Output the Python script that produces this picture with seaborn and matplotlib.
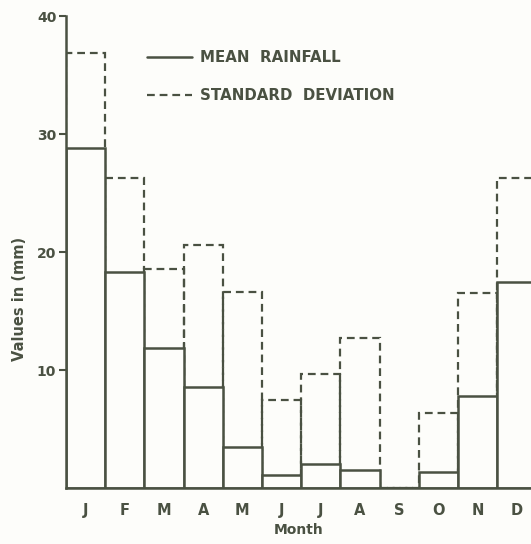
import matplotlib
matplotlib.use("Agg")
import matplotlib.pyplot as plt
import seaborn as sns
import pandas as pd
from matplotlib.lines import Line2D

months = ["J", "F", "M", "A", "M", "J", "J", "A", "S", "O", "N", "D"]
mean_rainfall = [28.8, 18.3, 11.9, 8.6, 3.5, 1.1, 2.0, 1.5, 0.0, 1.35, 7.8, 17.5]
std_deviation = [36.9, 26.3, 18.6, 20.6, 16.6, 7.5, 9.7, 12.7, 0.0, 6.35, 16.5, 26.3]
yticks = [10, 20, 30, 40]

ink = "#4a5142"
bg = "#fdfdfa"

sns.set_theme(style="white")
plt.rcParams["font.family"] = ["DejaVu Sans"]

df = pd.DataFrame({"pos": list(range(len(months))), "mean": mean_rainfall, "sd": std_deviation})

fig = plt.figure(figsize=(5.31, 5.44), dpi=100, facecolor=bg)
ax = fig.add_axes([66 / 531, 56 / 544, 1 - 66 / 531, (488 - 16) / 544])
ax.set_facecolor(bg)

dash = (0, (3.5, 2.2))
sns.barplot(data=df, x="pos", y="sd", ax=ax, width=1.0, fill=False,
            edgecolor=ink, linewidth=1.6, linestyle=dash, errorbar=None)
sns.barplot(data=df, x="pos", y="mean", ax=ax, width=1.0, color=bg, saturation=1,
            edgecolor=ink, linewidth=1.8, errorbar=None)

ax.set_xlim(-0.5, 11.36)
ax.set_ylim(0, 40)
ax.set_yticks(yticks)
ax.set_yticklabels([str(v) for v in yticks], fontsize=10, fontweight="bold", color=ink)
ax.set_xticks(range(len(months)))
ax.set_xticklabels(months, fontsize=10.5, fontweight="bold", color=ink)
ax.tick_params(axis="y", left=True, length=5, width=1.5, color=ink, pad=2)
ax.tick_params(axis="x", bottom=False, pad=5)

for s in ["top", "right"]:
    ax.spines[s].set_visible(False)
for s in ["left", "bottom"]:
    ax.spines[s].set_color(ink)
    ax.spines[s].set_linewidth(1.8)

ax.set_xlabel("Month", fontsize=10, fontweight="bold", color=ink, labelpad=2)
ax.xaxis.set_label_coords(0.5, -0.075)
ax.set_ylabel("Values in (mm)", fontsize=10.5, fontweight="bold", color=ink)
ax.yaxis.set_label_coords(-0.084, 0.40)

handles = [Line2D([], [], color=ink, lw=1.8, ls="-"),
           Line2D([], [], color=ink, lw=1.6, ls=dash)]
leg = ax.legend(handles, ["MEAN  RAINFALL", "STANDARD  DEVIATION"], frameon=False,
                loc="upper left", bbox_to_anchor=(147 / 531, 1 - 50 / 544),
                bbox_transform=fig.transFigure, borderpad=0, borderaxespad=0,
                handlelength=3.0, handletextpad=0.5, labelspacing=1.55,
                prop={"size": 10.8, "weight": "bold"})
for t in leg.get_texts():
    t.set_color(ink)

fig.savefig("out.png", dpi=100, facecolor=bg)
